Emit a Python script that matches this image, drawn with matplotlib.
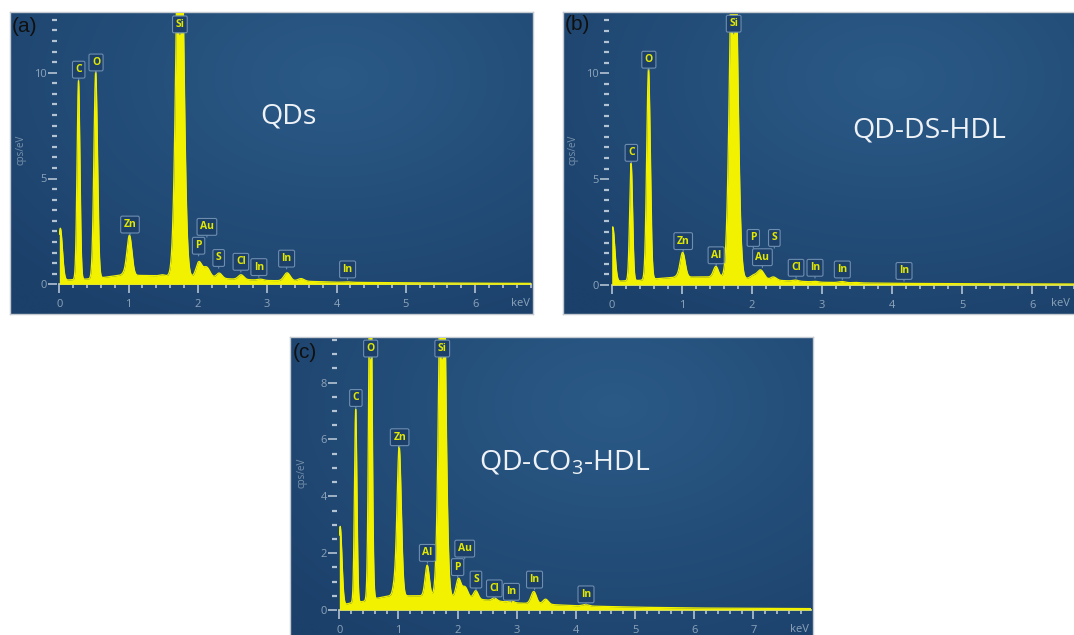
import numpy as np
import matplotlib
matplotlib.use("Agg")
import matplotlib.pyplot as plt
from matplotlib.ticker import MultipleLocator

plt.rcParams['font.family'] = ['Open Sans', 'DejaVu Sans']
plt.rcParams['mathtext.fontset'] = 'custom'
plt.rcParams['mathtext.rm'] = 'Open Sans'
plt.rcParams['mathtext.default'] = 'regular'

# ---------------- data ----------------
peak_names = ["noise", "C", "O", "Zn Ll", "Zn", "Al", "Si", "P", "Au", "S", "Cl",
              "In Ll", "In La", "In Lb", "In Lg"]
peak_energy = [0.015, 0.277, 0.525, 0.93, 1.012, 1.486, 1.74, 2.013, 2.123, 2.307,
               2.622, 2.904, 3.287, 3.487, 4.16]
peak_sigma = [0.03, 0.021, 0.026, 0.03, 0.036, 0.035, 0.05, 0.04, 0.05, 0.04,
              0.04, 0.04, 0.045, 0.045, 0.05]

heights_a = [2.45, 9.4, 9.75, 0.08, 1.9, 0.05, 21.0, 0.7, 0.5, 0.25, 0.22,
             0.05, 0.38, 0.12, 0.02]
heights_b = [2.55, 5.55, 9.95, 0.05, 1.18, 0.5, 20.0, 0.15, 0.45, 0.15, 0.05,
             0.03, 0.05, 0.02, 0.0]
heights_c = [2.7, 6.8, 14.0, 0.33, 5.25, 1.08, 16.0, 0.65, 0.4, 0.3, 0.1,
             0.06, 0.43, 0.18, 0.05]

bg_energy = [0.0, 0.1, 0.2, 0.4, 0.65, 0.85, 1.2, 1.5, 1.9, 2.5, 3.0, 3.5, 4.0, 5.0, 6.0, 8.0]
bg_a = [0.2, 0.2, 0.22, 0.25, 0.33, 0.42, 0.42, 0.4, 0.35, 0.25, 0.18, 0.15, 0.1, 0.07, 0.05, 0.04]
bg_b = [0.2, 0.18, 0.2, 0.22, 0.3, 0.35, 0.38, 0.38, 0.3, 0.2, 0.13, 0.1, 0.08, 0.06, 0.05, 0.04]
bg_c = [0.25, 0.2, 0.25, 0.3, 0.42, 0.5, 0.5, 0.5, 0.45, 0.35, 0.25, 0.2, 0.15, 0.1, 0.07, 0.05]

labels_a = ["C", "O", "Si", "Zn", "P", "Au", "S", "Cl", "In", "In", "In"]
label_x_a = [0.28, 0.53, 1.74, 1.02, 2.01, 2.13, 2.30, 2.62, 2.88, 3.28, 4.16]
label_tip_a = [9.66, 10.0, 11.8, 2.34, 1.34, 2.23, 0.76, 0.58, 0.33, 0.73, 0.22]

labels_b = ["C", "O", "Si", "Zn", "Al", "P", "Au", "S", "Cl", "In", "In", "In"]
label_x_b = [0.28, 0.53, 1.74, 1.02, 1.49, 2.02, 2.15, 2.32, 2.63, 2.90, 3.29, 4.17]
label_tip_b = [5.76, 10.16, 11.86, 1.59, 0.92, 1.74, 0.83, 1.74, 0.33, 0.33, 0.25, 0.18]

labels_c = ["C", "O", "Si", "Zn", "Al", "Au", "P", "S", "Cl", "In", "In", "In"]
label_x_c = [0.28, 0.53, 1.74, 1.02, 1.49, 2.12, 2.00, 2.31, 2.62, 2.91, 3.30, 4.17]
label_tip_c = [7.1, 8.84, 8.84, 5.72, 1.65, 1.8, 1.15, 0.71, 0.4, 0.28, 0.71, 0.19]

titles = ["QDs", "QD-DS-HDL", "QD-CO$_3$-HDL"]
panel_tags = ["(a)", "(b)", "(c)"]
yticks_major = [[0, 5, 10], [0, 5, 10], [0, 2, 4, 6, 8]]

# ---------------- layout (pixels of a 1074x635 canvas) ----------------
W, H = 1074, 635
fig = plt.figure(figsize=(W / 100, H / 100), dpi=100)
fig.patch.set_facecolor("white")

def frac(x0, y0, x1, y1):
    return [x0 / W, 1 - y1 / H, (x1 - x0) / W, (y1 - y0) / H]

panels = [
    dict(box=(9.5, 11.5, 532.5, 313.5), x0=59.3, y0=284.3, kx=69.3, ky=21.16, xmax=6.8, ymax=12.8,
         heights=heights_a, bg=bg_a, labels=labels_a, lx=label_x_a, lt=label_tip_a,
         title_xy=(288, 117), tag_xy=(24.5, 26), ylab_xy=(21, 150), kev_xy=(520.7, 304)),
    dict(box=(562.5, 11.5, 1090, 313.5), x0=611.7, y0=285.0, kx=70.1, ky=21.17, xmax=6.8, ymax=12.8,
         heights=heights_b, bg=bg_b, labels=labels_b, lx=label_x_b, lt=label_tip_b,
         title_xy=(929, 130), tag_xy=(577, 25), ylab_xy=(573, 150), kev_xy=(1060, 304)),
    dict(box=(289.5, 336.5, 812.5, 650), x0=339.3, y0=610.0, kx=59.16, ky=28.42, xmax=7.97, ymax=9.57,
         heights=heights_c, bg=bg_c, labels=labels_c, lx=label_x_c, lt=label_tip_c,
         title_xy=(564.5, 463), tag_xy=(304.5, 353), ylab_xy=(302.5, 473), kev_xy=(799, 630)),
]

light = np.array([0x2b, 0x5a, 0x87]) / 255.0
dark = np.array([0x1b, 0x40, 0x6a]) / 255.0
gu, gv = np.meshgrid(np.linspace(0, 1, 240), np.linspace(1, 0, 140))
gd = np.clip(np.sqrt(((gu - 0.62) / 0.85) ** 2 + ((gv - 0.78) / 0.95) ** 2), 0, 1)
grad = light[None, None, :] * (1 - gd[..., None]) + dark[None, None, :] * gd[..., None]

tick_col = "#b4c3d2"
lab_col = "#8ea4ba"
yellow = "#f2f200"

for i, p in enumerate(panels):
    bx0, by0, bx1, by1 = p["box"]
    axb = fig.add_axes(frac(bx0, by0, bx1, by1))
    axb.imshow(grad, extent=[0, 1, 0, 1], aspect="auto", interpolation="bilinear")
    axb.set_xlim(0, 1)
    axb.set_ylim(0, 1)
    axb.set_xticks([])
    axb.set_yticks([])
    for s in axb.spines.values():
        s.set_color("#c4cad0")
        s.set_linewidth(1.0)

    right = p["x0"] + p["kx"] * p["xmax"]
    top = p["y0"] - p["ky"] * p["ymax"]
    ax = fig.add_axes(frac(p["x0"], top, right, p["y0"]))
    ax.patch.set_alpha(0)
    ax.set_xlim(0, p["xmax"])
    ax.set_ylim(0, p["ymax"])

    # spectrum built from read peak table + continuum
    x = np.linspace(0, p["xmax"], 4000)
    y = np.interp(x, bg_energy, p["bg"])
    for e, s, h in zip(peak_energy, peak_sigma, p["heights"]):
        y = y + h * np.exp(-0.5 * ((x - e) / s) ** 2)
    ax.fill_between(x, 0, y, color=yellow, lw=0, zorder=2)
    ax.plot(x, y, color=yellow, lw=0.9, zorder=2)

    for side in ["top", "right", "left"]:
        ax.spines[side].set_visible(False)
    ax.spines["left"].set_position(("outward", 1.8))
    ax.spines["bottom"].set_color("#c9d6e3")
    ax.spines["bottom"].set_linewidth(1.2)
    ax.spines["bottom"].set_zorder(1)

    ax.xaxis.set_major_locator(MultipleLocator(1))
    ax.xaxis.set_minor_locator(MultipleLocator(0.2))
    ax.set_yticks(yticks_major[i])
    ax.yaxis.set_minor_locator(MultipleLocator(0.5))
    ax.tick_params(axis="x", which="major", direction="out", length=6.5, width=1.2,
                   color=tick_col, labelcolor=lab_col, labelsize=8, pad=4.0)
    ax.tick_params(axis="x", which="minor", direction="out", length=3.0, width=1.2, color=tick_col)
    ax.tick_params(axis="y", which="major", direction="out", length=6.2, width=1.2,
                   color=tick_col, labelcolor=lab_col, labelsize=8, pad=1.0)
    ax.tick_params(axis="y", which="minor", direction="out", length=3.6, width=1.6, color=tick_col)

    # element callouts
    for el, lx, lt in zip(p["labels"], p["lx"], p["lt"]):
        ax.annotate(el, xy=(lx, lt), xytext=(0, 3.4), textcoords="offset points",
                    ha="center", va="bottom", fontsize=7.5, fontweight="bold", color="#e2e800",
                    annotation_clip=False, clip_on=True, zorder=5,
                    bbox=dict(boxstyle="round,pad=0.28,rounding_size=0.15", fc="#1d406a",
                              ec="#6e8eb0", lw=0.8),
                    arrowprops=dict(arrowstyle="-", color="#6e8eb0", lw=0.8,
                                    shrinkA=0, shrinkB=0))

    tx, ty = p["title_xy"]
    fig.text(tx / W, 1 - ty / H, titles[i], ha="center", va="center",
             fontsize=20.5, color="#eef2f6", zorder=6)
    gx, gy = p["tag_xy"]
    fig.text(gx / W, 1 - gy / H, panel_tags[i], ha="center", va="center",
             fontsize=15, color="#101010", family="Liberation Sans", zorder=6)
    lxp, lyp = p["ylab_xy"]
    fig.text(lxp / W, 1 - lyp / H, "cps/eV", ha="center", va="center", rotation=90,
             fontsize=7, color="#7a92ab", zorder=6)
    kx_, ky_ = p["kev_xy"]
    fig.text(kx_ / W, 1 - ky_ / H, "keV", ha="center", va="center",
             fontsize=8, color=lab_col, zorder=6)

fig.savefig("out.png", dpi=100, facecolor="white")
